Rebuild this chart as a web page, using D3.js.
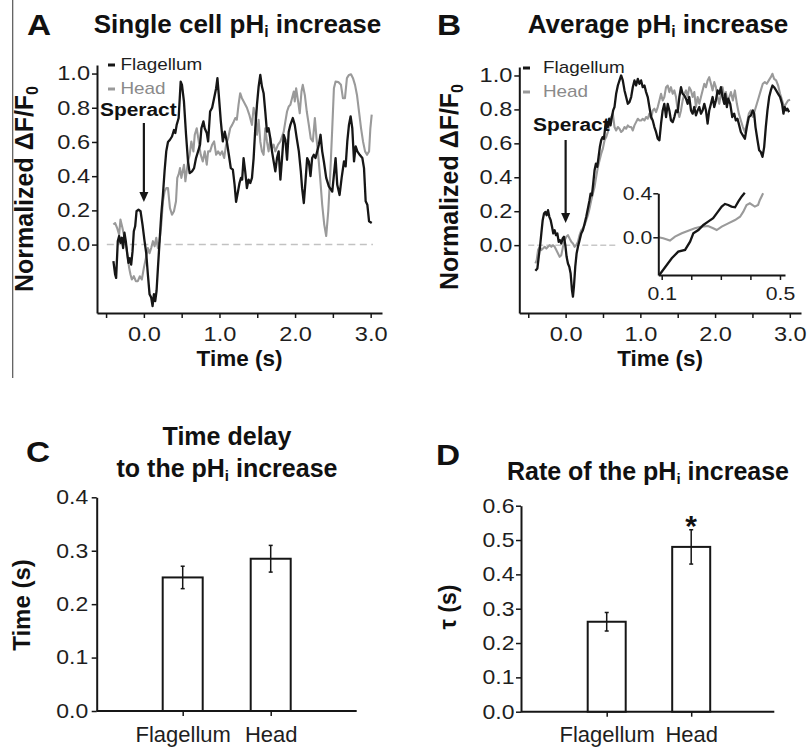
<!DOCTYPE html>
<html>
<head>
<meta charset="utf-8">
<script src="https://cdn.jsdelivr.net/npm/d3@7"></script>
<style>
  body { margin: 0; background: #fff; }
  svg { display: block; font-family: "Liberation Sans", Arial, sans-serif; }
</style>
</head>
<body>
<div id="fig"></div>
<script>
// ---- data: [time (s), normalized dF/F0] ----
const flagA = [[-0.403,-0.097],[-0.38,-0.175],[-0.367,-0.195],[-0.345,0.02],[-0.327,0.05],[-0.31,0.01],[-0.292,0.04],[-0.274,-0.02],[-0.257,0.07],[-0.239,0.02],[-0.221,-0.05],[-0.204,-0.107],[-0.186,-0.08],[-0.168,-0.117],[-0.15,-0.04],[-0.133,0.078],[-0.115,0.107],[-0.097,0.195],[-0.071,0.204],[-0.044,0.195],[-0.018,0.117],[0.009,0.02],[0.031,-0.05],[0.053,-0.175],[0.075,-0.29],[0.097,-0.31],[0.115,-0.36],[0.133,-0.29],[0.15,-0.33],[0.168,-0.27],[0.186,-0.136],[0.208,0.02],[0.23,0.175],[0.252,0.29],[0.274,0.43],[0.296,0.545],[0.319,0.60],[0.345,0.613],[0.372,0.632],[0.398,0.67],[0.416,0.652],[0.434,0.70],[0.46,0.74],[0.487,0.953],[0.504,0.934],[0.53,0.837],[0.558,0.642],[0.584,0.486],[0.606,0.418],[0.637,0.428],[0.664,0.447],[0.69,0.506],[0.717,0.545],[0.743,0.584],[0.761,0.68],[0.788,0.72],[0.805,0.68],[0.832,0.652],[0.85,0.603],[0.876,0.778],[0.903,0.80],[0.929,0.856],[0.956,0.914],[0.973,0.973],[0.991,0.875],[1.018,0.72],[1.044,0.603],[1.07,0.66],[1.097,0.603],[1.124,0.525],[1.15,0.447],[1.177,0.438],[1.2,0.35],[1.22,0.25],[1.245,0.31],[1.265,0.36],[1.285,0.39],[1.30,0.38],[1.319,0.506],[1.34,0.43],[1.363,0.33],[1.385,0.38],[1.407,0.36],[1.43,0.39],[1.452,0.506],[1.474,0.68],[1.496,0.817],[1.518,0.924],[1.54,0.992],[1.562,0.924],[1.584,0.885],[1.606,0.778],[1.628,0.66],[1.65,0.68],[1.673,0.62],[1.695,0.545],[1.717,0.486],[1.739,0.428],[1.761,0.506],[1.783,0.545],[1.806,0.38],[1.828,0.506],[1.85,0.642],[1.872,0.613],[1.894,0.496],[1.916,0.66],[1.938,0.70],[1.97,0.74],[1.996,0.70],[2.023,0.62],[2.05,0.545],[2.076,0.43],[2.093,0.33],[2.116,0.243],[2.138,0.37],[2.16,0.506],[2.182,0.486],[2.204,0.40],[2.226,0.506],[2.248,0.525],[2.27,0.506],[2.293,0.545],[2.315,0.584],[2.337,0.642],[2.359,0.545],[2.381,0.486],[2.412,0.39],[2.447,0.34],[2.492,0.31],[2.514,0.408],[2.536,0.506],[2.558,0.35],[2.589,0.29],[2.616,0.39],[2.647,0.486],[2.669,0.457],[2.691,0.603],[2.713,0.70],[2.735,0.75],[2.757,0.68],[2.78,0.486],[2.802,0.574],[2.824,0.545],[2.855,0.525],[2.89,0.506],[2.912,0.447],[2.934,0.253],[2.956,0.233],[2.979,0.136],[3.014,0.126]];

const headA = [[-0.403,0.117],[-0.38,0.126],[-0.354,0.097],[-0.327,0.058],[-0.31,0.146],[-0.283,0.097],[-0.257,0.04],[-0.23,-0.02],[-0.212,-0.078],[-0.195,-0.136],[-0.177,-0.175],[-0.159,-0.204],[-0.133,-0.185],[-0.106,-0.214],[-0.08,-0.214],[-0.053,-0.185],[-0.027,-0.204],[0,-0.136],[0.027,-0.078],[0.053,-0.02],[0.075,-0.05],[0.097,-0.02],[0.12,0.02],[0.142,-0.01],[0.164,0.04],[0.186,-0.02],[0.208,0.02],[0.23,0.117],[0.252,0.253],[0.274,0.31],[0.296,0.33],[0.319,0.33],[0.345,0.214],[0.372,0.175],[0.398,0.195],[0.425,0.253],[0.442,0.39],[0.46,0.41],[0.478,0.447],[0.496,0.39],[0.513,0.428],[0.531,0.467],[0.549,0.37],[0.566,0.428],[0.584,0.486],[0.606,0.525],[0.628,0.603],[0.655,0.545],[0.673,0.642],[0.699,0.68],[0.726,0.603],[0.752,0.525],[0.779,0.486],[0.805,0.545],[0.832,0.467],[0.85,0.545],[0.876,0.545],[0.903,0.584],[0.929,0.603],[0.956,0.525],[0.982,0.545],[1.009,0.525],[1.035,0.545],[1.062,0.506],[1.088,0.584],[1.115,0.622],[1.142,0.68],[1.168,0.70],[1.19,0.72],[1.21,0.74],[1.23,0.73],[1.252,0.817],[1.274,0.885],[1.297,0.856],[1.332,0.827],[1.363,0.80],[1.394,0.76],[1.43,0.70],[1.452,0.80],[1.474,0.76],[1.496,0.642],[1.518,0.73],[1.54,0.603],[1.562,0.545],[1.584,0.525],[1.606,0.68],[1.628,0.603],[1.65,0.545],[1.673,0.62],[1.695,0.564],[1.717,0.584],[1.739,0.545],[1.775,0.584],[1.806,0.603],[1.828,0.632],[1.85,0.66],[1.872,0.72],[1.894,0.778],[1.916,0.807],[1.938,0.817],[1.96,0.856],[1.983,0.895],[1.996,0.837],[2.014,0.914],[2.04,0.837],[2.062,0.768],[2.085,0.895],[2.102,0.934],[2.129,0.875],[2.155,0.778],[2.182,0.70],[2.208,0.62],[2.235,0.603],[2.262,0.74],[2.284,0.62],[2.306,0.525],[2.332,0.39],[2.359,0.233],[2.386,0.117],[2.412,0.05],[2.439,0.195],[2.465,0.408],[2.492,0.68],[2.514,0.914],[2.536,0.953],[2.572,0.95],[2.607,0.934],[2.633,0.856],[2.66,0.856],[2.686,0.973],[2.713,0.992],[2.74,0.996],[2.766,0.973],[2.793,0.934],[2.819,0.875],[2.846,0.778],[2.873,0.68],[2.899,0.603],[2.926,0.545],[2.952,0.525],[2.979,0.545],[2.996,0.68],[3.014,0.76]];

const flagB = [[-0.405,-0.151],[-0.378,-0.137],[-0.36,-0.069],[-0.343,-0.01],[-0.325,0.069],[-0.307,0.147],[-0.289,0.186],[-0.271,0.196],[-0.254,0.176],[-0.236,0.206],[-0.218,0.167],[-0.2,0.147],[-0.182,0.108],[-0.165,0.069],[-0.147,0.088],[-0.129,0.059],[-0.111,0.069],[-0.093,0.02],[-0.076,0.029],[-0.058,0.01],[-0.04,0.039],[-0.022,0.049],[-0.004,0.0],[0.013,-0.069],[0.031,-0.108],[0.049,-0.127],[0.067,-0.167],[0.085,-0.265],[0.098,-0.304],[0.111,-0.245],[0.129,-0.127],[0.147,-0.049],[0.165,-0.01],[0.187,0.029],[0.209,0.069],[0.231,0.088],[0.254,0.127],[0.276,0.167],[0.298,0.216],[0.32,0.265],[0.334,0.304],[0.352,0.294],[0.369,0.363],[0.387,0.441],[0.405,0.48],[0.423,0.461],[0.441,0.52],[0.458,0.578],[0.476,0.618],[0.494,0.637],[0.512,0.627],[0.53,0.696],[0.547,0.725],[0.565,0.696],[0.583,0.745],[0.601,0.706],[0.619,0.755],[0.636,0.794],[0.654,0.814],[0.676,0.892],[0.699,0.941],[0.721,0.971],[0.743,1.0],[0.765,0.971],[0.788,0.912],[0.81,0.873],[0.832,0.833],[0.854,0.843],[0.877,0.873],[0.899,0.931],[0.921,0.971],[0.943,0.941],[0.966,0.98],[0.988,0.951],[1.01,0.971],[1.032,0.931],[1.055,0.941],[1.077,0.902],[1.099,0.873],[1.121,0.814],[1.144,0.755],[1.166,0.735],[1.188,0.696],[1.21,0.667],[1.233,0.627],[1.255,0.618],[1.277,0.716],[1.299,0.794],[1.321,0.833],[1.344,0.755],[1.366,0.833],[1.388,0.794],[1.41,0.735],[1.433,0.725],[1.455,0.755],[1.477,0.794],[1.5,0.784],[1.522,0.873],[1.544,0.931],[1.566,0.892],[1.589,0.882],[1.611,0.863],[1.633,0.833],[1.655,0.873],[1.678,0.794],[1.7,0.775],[1.722,0.814],[1.744,0.765],[1.767,0.794],[1.789,0.814],[1.811,0.775],[1.833,0.794],[1.856,0.833],[1.878,0.794],[1.9,0.716],[1.922,0.794],[1.945,0.833],[1.967,0.873],[1.989,0.814],[2.011,0.853],[2.034,0.912],[2.056,0.892],[2.078,0.931],[2.1,0.873],[2.123,0.833],[2.136,0.892],[2.158,0.814],[2.176,0.863],[2.203,0.833],[2.23,0.755],[2.256,0.775],[2.278,0.735],[2.3,0.745],[2.323,0.706],[2.345,0.667],[2.372,0.647],[2.399,0.627],[2.425,0.696],[2.452,0.755],[2.479,0.765],[2.505,0.794],[2.523,0.775],[2.541,0.696],[2.568,0.618],[2.59,0.559],[2.612,0.549],[2.635,0.52],[2.657,0.578],[2.679,0.696],[2.701,0.794],[2.724,0.873],[2.746,0.912],[2.768,0.941],[2.79,0.931],[2.817,0.912],[2.844,0.892],[2.87,0.873],[2.897,0.833],[2.915,0.775],[2.933,0.814],[2.95,0.794],[2.968,0.804],[2.991,0.784]];

const headB = [[-0.405,-0.108],[-0.387,-0.088],[-0.369,-0.029],[-0.347,-0.01],[-0.325,-0.029],[-0.303,-0.02],[-0.28,-0.01],[-0.258,-0.02],[-0.236,-0.01],[-0.214,0],[-0.191,-0.01],[-0.169,0],[-0.147,-0.01],[-0.125,-0.029],[-0.102,-0.049],[-0.08,-0.069],[-0.058,-0.059],[-0.036,-0.01],[-0.013,0.029],[0.009,0.049],[0.031,0.059],[0.053,0.039],[0.076,0.02],[0.098,0.01],[0.12,-0.01],[0.142,0.0],[0.165,0.02],[0.187,0.059],[0.209,0.088],[0.231,0.098],[0.254,0.118],[0.276,0.147],[0.298,0.176],[0.32,0.216],[0.343,0.265],[0.365,0.304],[0.387,0.343],[0.409,0.402],[0.432,0.461],[0.454,0.5],[0.476,0.539],[0.498,0.569],[0.521,0.618],[0.543,0.637],[0.565,0.667],[0.587,0.716],[0.61,0.755],[0.632,0.775],[0.654,0.696],[0.676,0.676],[0.699,0.696],[0.721,0.686],[0.743,0.667],[0.765,0.676],[0.788,0.696],[0.81,0.686],[0.832,0.706],[0.854,0.696],[0.877,0.696],[0.899,0.676],[0.921,0.706],[0.943,0.725],[0.966,0.745],[0.988,0.735],[1.01,0.735],[1.032,0.745],[1.055,0.735],[1.077,0.755],[1.099,0.745],[1.121,0.775],[1.144,0.745],[1.166,0.794],[1.188,0.804],[1.21,0.784],[1.233,0.814],[1.255,0.853],[1.277,0.892],[1.299,0.853],[1.321,0.873],[1.344,0.931],[1.366,0.941],[1.388,0.902],[1.41,0.931],[1.433,0.892],[1.455,0.912],[1.477,0.873],[1.5,0.794],[1.522,0.755],[1.544,0.794],[1.566,0.853],[1.589,0.892],[1.611,0.912],[1.633,0.873],[1.655,0.931],[1.678,0.912],[1.7,0.873],[1.722,0.902],[1.744,0.814],[1.767,0.873],[1.789,0.833],[1.811,0.873],[1.833,0.912],[1.856,0.951],[1.878,0.931],[1.9,0.971],[1.922,0.99],[1.945,0.951],[1.967,0.912],[1.989,0.961],[2.011,0.931],[2.034,0.873],[2.056,0.833],[2.078,0.892],[2.1,0.931],[2.123,0.873],[2.145,0.902],[2.167,0.843],[2.19,0.873],[2.212,0.902],[2.238,0.853],[2.265,0.912],[2.292,0.833],[2.318,0.775],[2.345,0.735],[2.372,0.696],[2.399,0.667],[2.425,0.716],[2.452,0.775],[2.479,0.794],[2.505,0.755],[2.532,0.794],[2.559,0.833],[2.586,0.873],[2.612,0.912],[2.639,0.951],[2.666,0.961],[2.692,0.951],[2.719,0.971],[2.746,0.99],[2.768,1.01],[2.79,0.98],[2.817,0.971],[2.844,0.941],[2.87,0.892],[2.897,0.853],[2.924,0.814],[2.95,0.833],[2.977,0.853],[3.004,0.857]];

// inset of panel B (zoom on the rise)
const flagInset = [[0.092,-0.343],[0.134,-0.191],[0.156,-0.13],[0.179,-0.115],[0.196,-0.04],[0.207,0.036],[0.224,0.066],[0.241,0.112],[0.257,0.142],[0.274,0.173],[0.286,0.218],[0.303,0.279],[0.314,0.303],[0.325,0.294],[0.336,0.279],[0.348,0.273],[0.359,0.324],[0.37,0.369],[0.381,0.405]];
const headInset = [[0.089,0],[0.105,-0.009],[0.128,-0.03],[0.145,0.006],[0.168,0.036],[0.19,0.06],[0.212,0.082],[0.235,0.097],[0.257,0.103],[0.274,0.082],[0.286,0.066],[0.303,0.097],[0.325,0.127],[0.348,0.157],[0.365,0.187],[0.376,0.233],[0.387,0.294],[0.398,0.309],[0.415,0.279],[0.426,0.294],[0.432,0.339],[0.443,0.4]];

// bar panels
const groups = ["Flagellum", "Head"];
const delayMean = [0.25, 0.285];
const delayErr = [0.021, 0.025];
const tauMean = [0.262, 0.48];
const tauErr = [0.027, 0.05];

// ticks
const traceTicksY = [0, 0.2, 0.4, 0.6, 0.8, 1.0];
const traceTicksX = [-0.5, 0, 0.5, 1, 1.5, 2, 2.5, 3];
const traceLabelsX = [0, 1, 2, 3];
const insetTicksX = [0.1, 0.2, 0.3, 0.4, 0.5];
const insetLabelsX = [0.1, 0.5];
const insetTicksY = [0, 0.4];
const delayTicks = [0, 0.1, 0.2, 0.3, 0.4];
const tauTicks = [0, 0.1, 0.2, 0.3, 0.4, 0.5, 0.6];

const BLACK = "#161616";
const GRAY = "#9a9a9a";
const fmt = d3.format(".1f");

const svg = d3.select("#fig").append("svg")
    .attr("width", 809)
    .attr("height", 749);

// glyphs in the figure are wider than Arial, stretch text around its anchor
function widen(sel, k) {
    sel.each(function() {
        const t = d3.select(this);
        const x = +t.attr("x") || 0;
        t.attr("transform", `translate(${x * (1 - k)},0) scale(${k},1)`);
    });
}

function styleAxis(g, size, k) {
    g.select(".domain").attr("stroke", BLACK).attr("stroke-width", 2);
    g.selectAll(".tick line").attr("stroke", BLACK).attr("stroke-width", 1.5);
    g.selectAll("text")
        .attr("fill", "#1e1e1e")
        .style("font-size", size + "px")
        .style("font-family", '"Liberation Sans", Arial, sans-serif')
        .call(widen, k);
}

function label(x, y, txt, size, opts = {}) {
    const t = svg.append("text")
        .attr("x", x)
        .attr("y", y)
        .attr("text-anchor", opts.anchor || "start")
        .attr("font-size", size)
        .attr("font-weight", opts.bold ? "bold" : "normal")
        .attr("fill", opts.fill || "#111")
        .text(txt);
    if (opts.k) t.call(widen, opts.k);
    return t;
}

function titleSub(cx, y, size, before, after) {
    const t = svg.append("text")
        .attr("x", cx).attr("y", y)
        .attr("text-anchor", "middle")
        .attr("font-size", size)
        .attr("font-weight", "bold")
        .attr("fill", "#111");
    t.append("tspan").text(before);
    t.append("tspan").attr("font-size", size * 0.6).attr("dy", 4).text("i");
    t.append("tspan").attr("dy", -4).text(after);
}

function rotLabel(x, y, size, parts) {
    const t = svg.append("text")
        .attr("transform", `translate(${x},${y}) rotate(-90)`)
        .attr("text-anchor", "middle")
        .attr("font-size", size)
        .attr("font-weight", "bold")
        .attr("fill", "#111");
    parts(t);
}

// separator line on the left
svg.append("line")
    .attr("x1", 12.7).attr("x2", 12.7)
    .attr("y1", 0).attr("y2", 378)
    .attr("stroke", "#555").attr("stroke-width", 1.2);

// ---- trace panels (A, B) ----
function tracePanel(p) {
    const x = d3.scaleLinear().domain([-0.62, 3.15]).range([p.left, p.right]);
    const y = d3.scaleLinear().domain([-0.4, 1.05]).range([313, p.top]);

    // zero line
    svg.append("line")
        .attr("x1", x(p.zero[0])).attr("x2", x(p.zero[1]))
        .attr("y1", y(0)).attr("y2", y(0))
        .attr("stroke", p.zeroColor)
        .attr("stroke-width", 1.5)
        .attr("stroke-dasharray", p.dash);

    const line = d3.line().x(d => x(d[0])).y(d => y(d[1]));

    svg.append("path").datum(p.head)
        .attr("d", line).attr("fill", "none")
        .attr("stroke", GRAY).attr("stroke-width", 2.1)
        .attr("stroke-linejoin", "round");
    svg.append("path").datum(p.flag)
        .attr("d", line).attr("fill", "none")
        .attr("stroke", BLACK).attr("stroke-width", 2.3)
        .attr("stroke-linejoin", "round");

    svg.append("g")
        .attr("transform", `translate(${p.left},0)`)
        .call(d3.axisLeft(y).tickValues(traceTicksY).tickFormat(fmt)
            .tickSize(5).tickSizeOuter(0).tickPadding(2))
        .call(styleAxis, 20, 1.18);

    svg.append("g")
        .attr("transform", "translate(0,313)")
        .call(d3.axisBottom(x).tickValues(traceTicksX)
            .tickFormat(d => traceLabelsX.includes(d) ? fmt(d) : "")
            .tickSize(5).tickSizeOuter(0).tickPadding(9))
        .call(styleAxis, 20, 1.18);

    // legend
    const legend = [["Flagellum", BLACK, "#1e1e1e", p.legY[0]], ["Head", GRAY, "#8a8a8a", p.legY[1]]];
    legend.forEach(([name, c, tc, ly]) => {
        svg.append("line")
            .attr("x1", p.legX).attr("x2", p.legX + 7)
            .attr("y1", ly).attr("y2", ly)
            .attr("stroke", c).attr("stroke-width", 3);
        label(p.legTextX, ly + 5.5, name, 16, { fill: tc, k: 1.18 });
    });

    // stimulus arrow
    label(p.sperX, p.sperY, "Speract", 19, { bold: true, k: 1.1 });
    const ax = x(0);
    svg.append("line")
        .attr("x1", ax).attr("x2", ax)
        .attr("y1", p.arrow[0]).attr("y2", p.arrow[1] - 8)
        .attr("stroke", BLACK).attr("stroke-width", 2.2);
    svg.append("path")
        .attr("d", `M${ax - 4.5},${p.arrow[1] - 10} L${ax + 4.5},${p.arrow[1] - 10} L${ax},${p.arrow[1]} Z`)
        .attr("fill", BLACK);

    label((p.left + p.right) / 2, 366, "Time (s)", 22.5, { bold: true, anchor: "middle" });

    rotLabel(p.yLabX, p.yLabY, 25, t => {
        t.append("tspan").text("Normalized \u0394F/F");
        t.append("tspan").attr("font-size", 16).attr("dy", 5).text("0");
    });
    return { x, y };
}

label(27, 35, "A", 29, { bold: true, k: 1.15 });
titleSub(237.5, 33, 26, "Single cell pH", " increase");
tracePanel({
    left: 97, right: 382, top: 65,
    flag: flagA, head: headA,
    zero: [-0.49, 3.03], zeroColor: "#c2c2c2", dash: "7,4.5",
    legX: 108, legTextX: 120.5, legY: [65, 89],
    sperX: 100, sperY: 116, arrow: [123, 202],
    yLabX: 33, yLabY: 189
});

label(437, 35, "B", 29, { bold: true, k: 1.15 });
titleSub(658, 33, 26, "Average pH", " increase");
tracePanel({
    left: 519.3, right: 801, top: 67,
    flag: flagB, head: headB,
    zero: [-0.5, 0.67], zeroColor: "#c8c8c8", dash: "6,3",
    legX: 523, legTextX: 543, legY: [68, 92],
    sperX: 533, sperY: 131, arrow: [140, 223],
    yLabX: 458, yLabY: 187
});

// inset in B
{
    const x = d3.scaleLinear().domain([0.0885, 0.517]).range([658.3, 785]);
    const y = d3.scaleLinear().domain([-0.343, 0.4]).range([275, 193.3]);
    const line = d3.line().x(d => x(d[0])).y(d => y(d[1]));

    svg.append("path").datum(headInset)
        .attr("d", line).attr("fill", "none")
        .attr("stroke", GRAY).attr("stroke-width", 2.1);
    svg.append("path").datum(flagInset)
        .attr("d", line).attr("fill", "none")
        .attr("stroke", BLACK).attr("stroke-width", 2.3);

    svg.append("g")
        .attr("transform", "translate(658.3,0)")
        .call(d3.axisLeft(y).tickValues(insetTicksY).tickFormat(fmt)
            .tickSize(5).tickSizeOuter(0).tickPadding(1))
        .call(styleAxis, 18, 1.18);

    svg.append("g")
        .attr("transform", "translate(0,275)")
        .call(d3.axisBottom(x).tickValues(insetTicksX)
            .tickFormat(d => insetLabelsX.includes(d) ? fmt(d) : "")
            .tickSize(5).tickSizeOuter(0).tickPadding(7))
        .call(styleAxis, 18, 1.18);
}

// ---- bar panels (C, D) ----
function barPanel(p) {
    const x = d3.scalePoint().domain(groups).range(p.pointRange).padding(0.5);
    const y = d3.scaleLinear().domain([0, p.max]).range([p.bottom, p.top]);

    svg.append("g")
        .attr("transform", `translate(${p.left},0)`)
        .call(d3.axisLeft(y).tickValues(p.ticks).tickFormat(fmt)
            .tickSize(5).tickSizeOuter(0).tickPadding(p.pad))
        .call(styleAxis, 20, 1.15);

    const xg = svg.append("g")
        .attr("transform", `translate(0,${p.bottom})`)
        .call(d3.axisBottom(x).tickSize(5).tickSizeOuter(0).tickPadding(10))
        .call(styleAxis, 22, 1.0);
    xg.select(".domain").remove();
    svg.append("line")
        .attr("x1", p.left).attr("x2", p.right)
        .attr("y1", p.bottom).attr("y2", p.bottom)
        .attr("stroke", BLACK).attr("stroke-width", 2);

    svg.selectAll(null)
        .data(groups)
        .enter()
        .append("rect")
        .attr("x", d => x(d) - p.bw / 2)
        .attr("y", (d, i) => y(p.mean[i]))
        .attr("width", p.bw)
        .attr("height", (d, i) => p.bottom - y(p.mean[i]))
        .attr("fill", "#fff")
        .attr("stroke", BLACK)
        .attr("stroke-width", 2);

    groups.forEach((d, i) => {
        const cx = x(d);
        const lo = y(p.mean[i] - p.err[i]);
        const hi = y(p.mean[i] + p.err[i]);
        svg.append("line").attr("x1", cx).attr("x2", cx).attr("y1", lo).attr("y2", hi)
            .attr("stroke", BLACK).attr("stroke-width", 1.5);
        [lo, hi].forEach(v => {
            svg.append("line").attr("x1", cx - 2).attr("x2", cx + 2).attr("y1", v).attr("y2", v)
                .attr("stroke", BLACK).attr("stroke-width", 1.5);
        });
    });
    return { x, y };
}

label(26, 462, "C", 29, { bold: true, k: 1.15 });
label(227, 445, "Time delay", 25, { bold: true, anchor: "middle" });
titleSub(227, 477, 25, "to the pH", " increase");
barPanel({
    left: 96.7, right: 356.7, top: 497.3, bottom: 711,
    pointRange: [138.7, 314.7], bw: 40,
    max: 0.4, ticks: delayTicks, pad: 3.5,
    mean: delayMean, err: delayErr
});
rotLabel(30, 605, 24, t => t.text("Time (s)"));

label(436, 465, "D", 29, { bold: true, k: 1.15 });
titleSub(648, 480, 25, "Rate of the pH", " increase");
const dScales = barPanel({
    left: 521, right: 774.3, top: 505.7, bottom: 711.7,
    pointRange: [564.45, 733.45], bw: 38,
    max: 0.6, ticks: tauTicks, pad: 1.5,
    mean: tauMean, err: tauErr
});
rotLabel(456, 607, 23, t => t.text("\u03c4 (s)"));

// significance mark above Head
label(dScales.x("Head"), dScales.y(tauMean[1] + tauErr[1]) + 6, "*", 30, { bold: true, anchor: "middle" });
</script>
</body>
</html>
